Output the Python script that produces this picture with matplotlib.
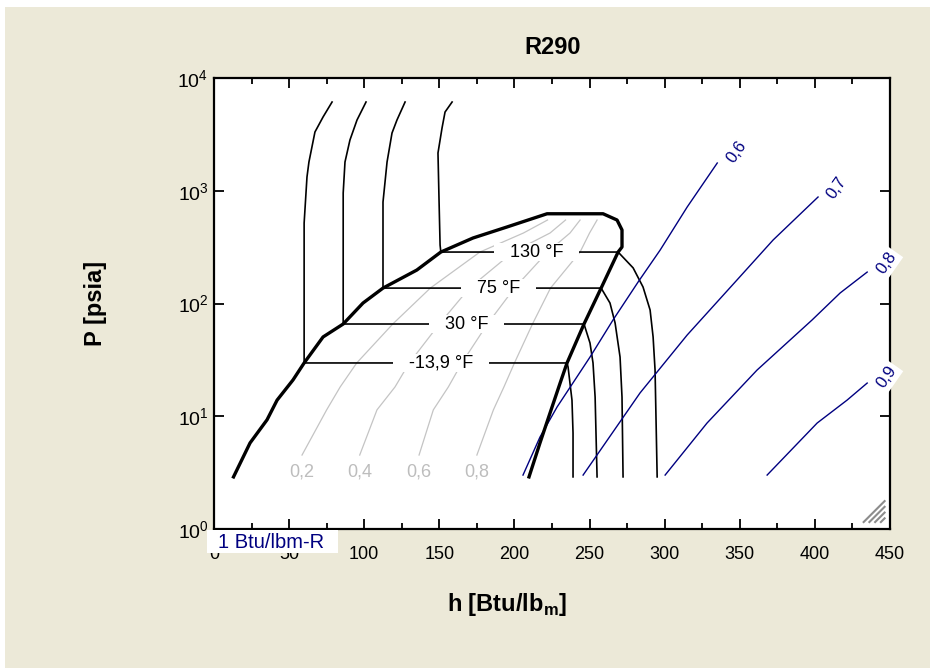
import matplotlib
matplotlib.use('Agg')
import matplotlib.pyplot as plt
from matplotlib.patches import Rectangle
from matplotlib.ticker import MultipleLocator, NullLocator

plt.rcParams['font.family'] = ['Liberation Sans', 'DejaVu Sans']

# saturation dome, h [Btu/lbm] and P [psia]
liq_h = [13, 24, 35.3, 42, 52.6, 60, 72.6, 86, 99.2, 112.5, 135, 151, 172.4, 195, 221.7]
liq_P = [2.9, 5.8, 9.3, 13.9, 21, 29.7, 50.5, 65.8, 101, 137, 198, 286, 381, 477, 625]
vap_h = [259, 268.3, 271.6, 271.6, 269, 257.7, 246.3, 235, 230.4, 223.7, 217, 209.7]
vap_P = [625, 550, 449, 317, 286, 137, 65.8, 29.7, 19.7, 10.7, 5.8, 2.9]

# isotherms (liquid branch from the top, flat part, vapour branch)
iso_labels = ['-13,9 °F', '30 °F', '75 °F', '130 °F']
iso_label_h = [151, 168, 189.4, 214.7]
iso_sat_P = [29.7, 65.8, 137, 286]
iso_m14_h = [78.6, 72.6, 67.2, 63.2, 61.9, 60, 60, 235, 235.7, 238.3, 239, 239]
iso_m14_P = [6124, 4510, 3319, 1799, 1324, 517, 29.7, 29.7, 27.3, 13.9, 7.1, 2.9]
iso_30_h = [101.2, 95.2, 90.5, 87.2, 86, 86, 246.3, 250.3, 252.3, 253.7, 255]
iso_30_P = [6124, 4240, 2818, 1799, 955, 65.8, 65.8, 44.6, 29.7, 14.8, 2.9]
iso_75_h = [127.2, 121.8, 118.5, 115.2, 112.5, 112.5, 257.7, 263.6, 267, 270.3, 271.6, 272.3]
iso_75_P = [6124, 4240, 3251, 1799, 794, 137, 137, 101, 67.2, 33.5, 14.8, 2.9]
iso_130_h = [158.5, 153.8, 151.8, 149.1, 149.8, 150.5, 151, 269, 279, 285.6, 290.3, 292.3, 293.6, 295]
iso_130_P = [6124, 4990, 3603, 2162, 828, 330, 286, 286, 207, 140, 87.6, 50.5, 25.7, 2.9]

# lines of constant quality
q_labels = ['0,2', '0,4', '0,6', '0,8']
q_P = [4.53, 11.4, 18.2, 29.7, 65.8, 137, 286, 422, 550]
q02_h = [58.6, 75, 84, 95, 119, 144, 177, 206, 222]
q04_h = [97, 108.5, 120.5, 130, 150, 170, 199, 223.7, 234]
q06_h = [136.5, 146, 156, 165, 182, 200, 222, 237, 243.7]
q08_h = [175, 186, 193, 200, 212, 224, 243.7, 250, 255]
q_label_P = 3.2

# lines of constant entropy [Btu/lbm-R]
s_labels = ['0,6', '0,7', '0,8', '0,9']
s06_h = [205.7, 217, 228.4, 250.3, 265.6, 282.3, 297, 315, 335]
s06_P = [3.01, 6.54, 12.1, 33.5, 71.4, 155, 298, 718, 1762]
s07_h = [245.7, 283.6, 315, 348.2, 372.2, 402.1]
s07_P = [3.01, 16.1, 52.6, 162, 366, 880]
s08_h = [300.3, 328.2, 361.5, 398.1, 416.8, 434.8]
s08_P = [3.01, 8.71, 25.7, 71.4, 124, 190]
s09_h = [368.2, 401.5, 421.4, 434.8]
s09_P = [3.01, 8.71, 13.9, 19.7]
s_label_h = [348.2, 414.4, 448, 448]
s_label_P = [2207, 1058, 229, 22.3]

navy = '#000080'
grey = '#C4C4C4'

fig = plt.figure(figsize=(9.3, 6.7), dpi=100)
fig.patch.set_facecolor('white')
fig.add_artist(Rectangle((0.0054, 0.003), 0.9946, 0.9866, transform=fig.transFigure,
                         facecolor='#ECE9D8', edgecolor='none', zorder=-10))

ax = fig.add_axes([0.2301, 0.2104, 0.7269, 0.6732])
ax.set_facecolor('white')

# quality lines
for qh, lab in zip([q02_h, q04_h, q06_h, q08_h], q_labels):
    ax.plot(qh, q_P, color=grey, lw=0.9, zorder=1.5)
    ax.text(qh[0], q_label_P, lab, color='#BDBDBD', fontsize=13, ha='center', va='center')

# isotherms
for ih, iP in zip([iso_m14_h, iso_30_h, iso_75_h, iso_130_h],
                  [iso_m14_P, iso_30_P, iso_75_P, iso_130_P]):
    ax.plot(ih, iP, color='black', lw=1.2, zorder=2)
for lab, h, P in zip(iso_labels, iso_label_h, iso_sat_P):
    ax.text(h, P, '   ' + lab + '   ', fontsize=13, ha='center', va='center', zorder=4,
            bbox=dict(facecolor='white', edgecolor='none', boxstyle='square,pad=0.05'))

# entropy lines
for sh, sP in zip([s06_h, s07_h, s08_h, s09_h], [s06_P, s07_P, s08_P, s09_P]):
    ax.plot(sh, sP, color=navy, lw=1.0, zorder=2.5)
for lab, h, P in zip(s_labels, s_label_h, s_label_P):
    ax.text(h, P, lab, color=navy, fontsize=12, rotation=55, ha='center', va='center',
            zorder=5, clip_on=False,
            bbox=dict(facecolor='white', edgecolor='none', boxstyle='square,pad=0.15'))

# dome
ax.plot(liq_h + vap_h, liq_P + vap_P, color='black', lw=2.4, zorder=3,
        solid_joinstyle='round')

ax.set_xlim(0, 450)
ax.set_yscale('log')
ax.set_ylim(1, 1e4)
ax.xaxis.set_major_locator(MultipleLocator(50))
ax.xaxis.set_minor_locator(MultipleLocator(25))
ax.yaxis.set_minor_locator(NullLocator())
ax.tick_params(which='both', direction='in', top=True, right=True, width=1.3, labelsize=13)
ax.tick_params(which='major', length=7)
ax.tick_params(which='minor', length=4)
ax.tick_params(axis='x', pad=12)
ax.tick_params(axis='y', pad=4, labelsize=14)
for sp in ax.spines.values():
    sp.set_linewidth(1.6)

# resize grip in the lower right corner (axes fraction, 676 x 451 px box)
for k in range(4):
    x0 = 0.961 + k * 0.0085
    ax.plot([x0, 0.992], [0.0155, 0.0155 + (0.992 - x0) * 676 / 451],
            transform=ax.transAxes, color='#8C8C8C', lw=1.5, zorder=6, clip_on=False)

fig.text(553 / 930, 1 - 47 / 670, 'R290', fontsize=17, fontweight='bold', ha='center', va='center')
fig.text(95 / 930, 1 - 303 / 670, 'P [psia]', fontsize=17, fontweight='bold',
         rotation=90, ha='center', va='center')
fig.text(507 / 930, 1 - 605 / 670, 'h [Btu/lb$_{\\mathdefault{m}}$]', fontsize=17,
         fontweight='bold', ha='center', va='center')

# units box
fig.add_artist(Rectangle((207 / 930, 1 - 553 / 670), 131 / 930, 23 / 670,
                         transform=fig.transFigure, facecolor='white', edgecolor='none', zorder=2))
fig.text(218 / 930, 1 - 542 / 670, '1 Btu/lbm-R', color=navy, fontsize=14.5,
         ha='left', va='center', zorder=3)

fig.savefig('out.png', dpi=100, facecolor=fig.get_facecolor())
